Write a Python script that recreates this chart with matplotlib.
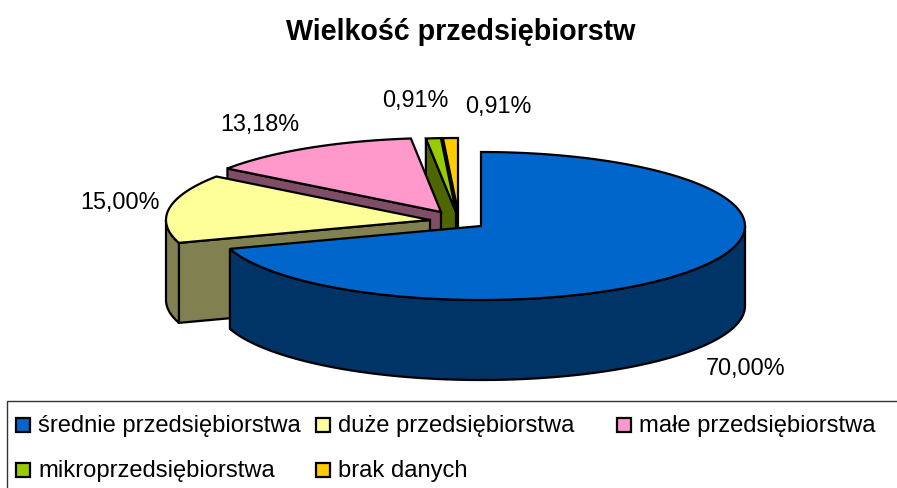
import matplotlib
matplotlib.use('Agg')
import matplotlib.pyplot as plt
from matplotlib.patches import Rectangle
import numpy as np

categories = ['średnie przedsiębiorstwa', 'duże przedsiębiorstwa', 'małe przedsiębiorstwa',
              'mikroprzedsiębiorstwa', 'brak danych']
shares = [70.00, 15.00, 13.18, 0.91, 0.91]
colors = ['#0066CC', '#FFFF99', '#FF99CC', '#99CC00', '#FFCC00']
dark_colors = ['#003366', '#808050', '#804D66', '#4D6600', '#806600']

# layout in pixels
cx, cy = 481, 226
rx, ry = 264, 74
depth = 80
explode = [(0, 0), (-51, -6), (-40, -14), (-25, -14), (-23, -14)]
label_pos = [(746, 368), (120, 203), (260, 124), (415, 101), (498, 106)]
legend_x = [16, 316, 617, 16, 316]
legend_y = [418, 418, 418, 463, 463]


def rim(a0, a1, ox, oy):
    # angles run clockwise from 12 o'clock
    t = np.radians(np.linspace(a0, a1, 200))
    return cx + ox + rx * np.sin(t), cy + oy - ry * np.cos(t)


def draw_slice(ax, a0, a1, off, col, dark):
    ox, oy = off
    ax0, ay0 = cx + ox, cy + oy
    style = dict(edgecolor='black', linewidth=1.6, joinstyle='miter')
    # cut faces that look at the viewer
    for a, visible in ((a0, np.sin(np.radians(a0)) < -1e-6), (a1, np.sin(np.radians(a1)) > 1e-6)):
        if visible:
            x, y = rim(a, a, ox, oy)
            ax.fill([ax0, x[0], x[0], ax0], [ay0, y[0], y[0] + depth, ay0 + depth],
                    facecolor=dark, **style)
    # outer wall, only the front half of the rim
    lo, hi = max(a0, 90), min(a1, 270)
    if lo < hi:
        x, y = rim(lo, hi, ox, oy)
        ax.fill(np.r_[x, x[::-1]], np.r_[y, y[::-1] + depth], facecolor=dark, **style)
    # top
    x, y = rim(a0, a1, ox, oy)
    ax.fill(np.r_[ax0, x], np.r_[ay0, y], facecolor=col, **style)


def wielkosc_plot():
    plt.rcParams['font.family'] = ['Liberation Sans', 'DejaVu Sans']
    fig = plt.figure(figsize=(8.97, 4.88), dpi=100)
    ax = fig.add_axes([0, 0, 1, 1])
    ax.set(xlim=(0, 897), ylim=(488, 0))
    ax.axis('off')

    edges = np.r_[0, np.cumsum(shares)] * 360 / sum(shares)
    # back slices first so the nearer ones cover them
    for i in range(len(shares) - 1, -1, -1):
        draw_slice(ax, edges[i], edges[i + 1], explode[i], colors[i], dark_colors[i])

    for v, (x, y) in zip(shares, label_pos):
        ax.text(x, y, f'{v:.2f}'.replace('.', ',') + '%', fontsize=16.8,
                ha='center', va='center')

    ax.text(461, 32, 'Wielkość przedsiębiorstw', fontsize=20.6, fontweight='bold',
            ha='center', va='center')

    ax.add_patch(Rectangle((7, 401), 895, 100, facecolor='white', edgecolor='#333333',
                           linewidth=1, clip_on=True))
    for name, col, x, y in zip(categories, colors, legend_x, legend_y):
        ax.add_patch(Rectangle((x, y), 14, 14, facecolor=col, edgecolor='black', linewidth=1.6))
        ax.text(x + 22, y + 8, name, fontsize=17.1, ha='left', va='center')

    plt.savefig('out.png', dpi=100)


if __name__ == '__main__':
    wielkosc_plot()
